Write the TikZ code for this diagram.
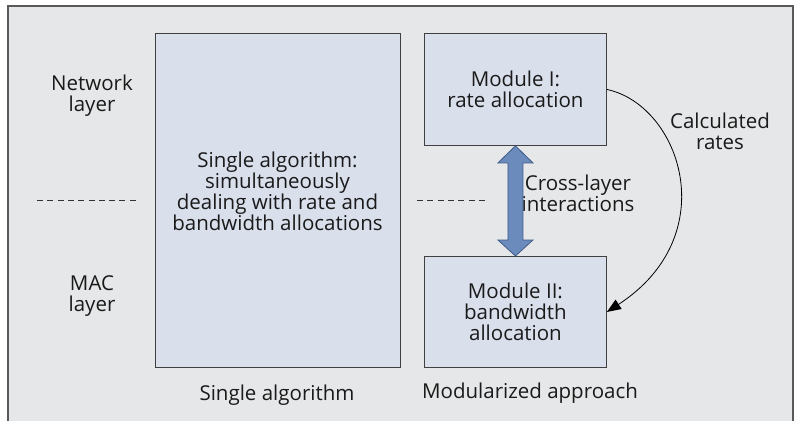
\documentclass[tikz,border=0pt]{standalone}
\usepackage{fontspec}
\setmainfont{Open Sans}
\usetikzlibrary{arrows.meta,calc}
\definecolor{bg}{HTML}{E6E7E8}
\definecolor{boxfill}{HTML}{DADFEC}
\definecolor{arrfill}{HTML}{6C8BBD}
\definecolor{arrline}{HTML}{3E5A88}
\definecolor{txt}{HTML}{1A1A1A}
\begin{document}
\begin{tikzpicture}[x=1pt,y=-1pt,
  every node/.style={font=\fontsize{20.5}{21}\selectfont, text=txt},
  blk/.style={draw=black!75, line width=0.9pt, fill=boxfill, inner sep=0pt, align=center, anchor=north west},
  lbl/.style={align=center, inner sep=0pt},
  dashln/.style={dash pattern=on 6pt off 4.3pt, line width=0.8pt, draw=black!80}]
\useasboundingbox (0,0) rectangle (801,421);
\fill[bg] (8,6) rectangle (793,421);
\draw[line width=1.2pt, draw=black!65] (8,421) -- (8,6) -- (793,6) -- (793,421);

\node[blk, minimum width=245pt, minimum height=334pt] (big) at (155,33) {};
\node[lbl] (bigtxt) at (277.5,191) {Single algorithm:\\simultaneously\\dealing with rate and\\bandwidth allocations};

\node[blk, minimum width=182pt, minimum height=112pt] (m1) at (424,33) {Module I:\\rate allocation};
\node[blk, minimum width=182pt, minimum height=111pt] (m2) at (424,256) {Module II:\\bandwidth\\allocation};

\node[lbl] (net) at (92,96) {Network\\layer};
\node[lbl] (mac) at (92,296) {MAC\\layer};
\node[lbl] (calc) at (720,131) {Calculated\\rates};
\node[lbl] (cross) at (578,193) {Cross-layer\\interactions};
\node[lbl] (single) at (277,395) {Single algorithm};
\node[lbl] (modular) at (530,393) {Modularized approach};

\coordinate (d1a) at (37,200); \coordinate (d1b) at (138,200);
\coordinate (d2a) at (417,200); \coordinate (d2b) at (487,200);
\draw[dashln] (d1a) -- (d1b);
\draw[dashln] (d2a) -- (d2b);

\filldraw[fill=arrfill, draw=arrline, line width=0.8pt, line join=miter]
  (m1.south) -- ++(17.5,17) -- ++(-10,0) -- ($(m2.north)+(7.5,-16)$) -- ++(10,0)
  -- (m2.north) -- ++(-17.5,-16) -- ++(10,0) -- ($(m1.south)+(-7.5,17)$) -- ++(-10,0) -- cycle;

\draw[-{Triangle[length=14pt,width=11pt]}, line width=0.8pt]
  (m1.east) .. controls (680,105) and (725,235) .. (m2.east);
\end{tikzpicture}
\end{document}
